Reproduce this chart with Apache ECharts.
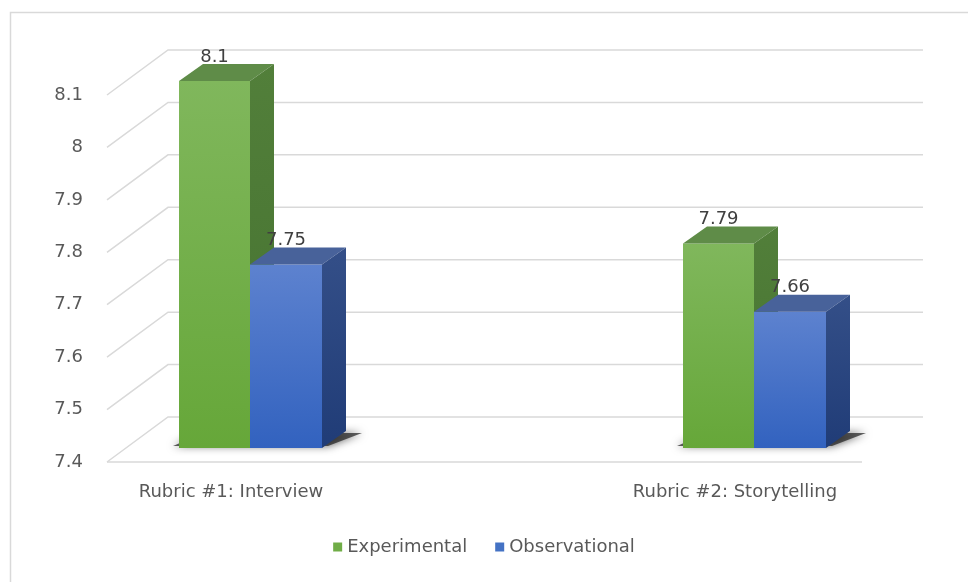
<!DOCTYPE html>
<html>
<head>
<meta charset="utf-8">
<script src="https://cdn.jsdelivr.net/npm/echarts@6/dist/echarts.min.js"></script>
<style>
  html, body { margin: 0; padding: 0; background: #fff; }
  #chart { width: 968px; height: 582px; }
</style>
</head>
<body>
<div id="chart"></div>
<script>
const categories = ['Rubric #1: Interview', 'Rubric #2: Storytelling']
const experimental = [8.1, 7.79]
const observational = [7.75, 7.66]
const yTicks = [7.4, 7.5, 7.6, 7.7, 7.8, 7.9, 8.0, 8.1]

const yMin = 7.4
const yMax = 8.1
const FONT = '"DejaVu Sans", sans-serif'
const FS = 18

// 3d look: wall depth, bar row offset, bar depth
const wall = { dx: 61, dy: 45 }
const row = { dx: 19, dy: 14 }
const depth = { dx: 24, dy: 17 }
const barW = 72

const palette = {
  Experimental: {
    front: ['#80b75c', '#66a739'],
    top: '#5f8c48',
    side: ['#527f3a', '#457230'],
    legend: '#70ad47'
  },
  Observational: {
    front: ['#5d82cf', '#3262bf'],
    top: '#48629a',
    side: ['#344f88', '#203c77'],
    legend: '#4472c4'
  }
}

const chart = echarts.init(document.getElementById('chart'))

const barGeom = (api, idx, value, side) => {
  const c = api.coord([idx, value])
  const b = api.coord([idx, yMin])
  const x0 = c[0] + row.dx + (side === 0 ? -barW + 1 : 0)
  const x1 = x0 + (side === 0 ? barW - 1 : barW)
  return { x0, x1, yt: c[1] - row.dy, yb: b[1] - row.dy }
}

const grad = (a, b) => new echarts.graphic.LinearGradient(0, 0, 0, 1, [
  { offset: 0, color: a },
  { offset: 1, color: b }
])

const makeBarSeries = (name, values, side) => ({
  name,
  type: 'custom',
  itemStyle: { color: palette[name].legend },
  data: values.map((v, i) => [i, v]),
  z: 3,
  renderItem: (params, api) => {
    const idx = api.value(0)
    const v = api.value(1)
    const g = barGeom(api, idx, v, side)
    const p = palette[name]
    return {
      type: 'group',
      children: [
        {
          type: 'rect',
          shape: { x: g.x0, y: g.yt, width: g.x1 - g.x0, height: g.yb - g.yt },
          style: { fill: grad(p.front[0], p.front[1]) }
        },
        {
          type: 'polygon',
          shape: { points: [[g.x0, g.yt], [g.x1, g.yt], [g.x1 + depth.dx, g.yt - depth.dy], [g.x0 + depth.dx, g.yt - depth.dy]] },
          style: { fill: p.top }
        },
        {
          type: 'polygon',
          shape: { points: [[g.x1, g.yt], [g.x1 + depth.dx, g.yt - depth.dy], [g.x1 + depth.dx, g.yb - depth.dy], [g.x1, g.yb]] },
          style: { fill: grad(p.side[0], p.side[1]) }
        },
        {
          type: 'text',
          z2: 10,
          style: {
            text: String(v),
            x: (g.x0 + g.x1) / 2,
            y: g.yt - depth.dy + 2,
            align: 'center',
            verticalAlign: 'bottom',
            fill: '#404040',
            font: FS + 'px ' + FONT
          }
        }
      ]
    }
  }
})

const option = {
  animation: false,
  graphic: [{
    type: 'rect',
    shape: { x: 10.5, y: 12.5, width: 980, height: 600 },
    style: { fill: 'none', stroke: '#d9d9d9', lineWidth: 1.5 },
    silent: true
  }],
  grid: { left: 231, top: 95, width: 504, height: 367 },
  legend: {
    bottom: 21,
    left: 'center',
    itemWidth: 9,
    itemHeight: 9,
    itemGap: 28,
    icon: 'rect',
    textStyle: { color: '#595959', fontSize: FS, fontFamily: FONT },
    data: ['Experimental', 'Observational']
  },
  xAxis: {
    type: 'category',
    data: categories,
    boundaryGap: false,
    axisLine: { show: false },
    axisTick: { show: false },
    splitLine: { show: false },
    axisLabel: { color: '#595959', fontSize: FS, fontFamily: FONT, margin: 21 }
  },
  yAxis: {
    type: 'value',
    min: yMin,
    max: yMax,
    interval: 0.1,
    axisLine: { show: false },
    axisTick: { show: false },
    splitLine: { show: false },
    axisLabel: { color: '#595959', fontSize: FS, fontFamily: FONT, margin: 148 }
  },
  series: [
    {
      // back wall + floor lines
      type: 'custom',
      silent: true,
      z: 1,
      data: yTicks.map(v => [0, v]),
      renderItem: (params, api) => {
        const cs = params.coordSys
        const p = api.coord([0, api.value(1)])
        const left = cs.x - 124
        const right = cs.x + cs.width + 188
        const children = [{
          type: 'polyline',
          shape: { points: [[left, p[1]], [left + wall.dx, p[1] - wall.dy], [right, p[1] - wall.dy]] },
          style: { stroke: '#d9d9d9', lineWidth: 1.5, fill: null }
        }]
        if (api.value(1) === yMin) {
          children.push({
            type: 'line',
            shape: { x1: left, y1: p[1], x2: cs.x + cs.width + 127, y2: p[1] },
            style: { stroke: '#d9d9d9', lineWidth: 1.5 }
          })
        }
        return { type: 'group', children }
      }
    },
    {
      // soft floor shadow under each cluster
      type: 'custom',
      silent: true,
      z: 2,
      data: categories.map((c, i) => [i, Math.max(experimental[i], observational[i])]),
      renderItem: (params, api) => {
        const idx = api.value(0)
        const g1 = barGeom(api, idx, yMin, 0)
        const g2 = barGeom(api, idx, yMin, 1)
        const yb = g1.yb
        return {
          type: 'polygon',
          shape: { points: [[g1.x0 - 6, yb - 2], [g2.x1 + 6, yb - 2], [g2.x1 + depth.dx + 16, yb - depth.dy + 2], [g1.x0 + depth.dx, yb - depth.dy + 2]] },
          style: { fill: 'rgba(30,30,30,0.7)', shadowBlur: 8, shadowColor: 'rgba(0,0,0,0.9)' }
        }
      }
    },
    makeBarSeries('Experimental', experimental, 0),
    makeBarSeries('Observational', observational, 1)
  ]
}

chart.setOption(option)
</script>
</body>
</html>
